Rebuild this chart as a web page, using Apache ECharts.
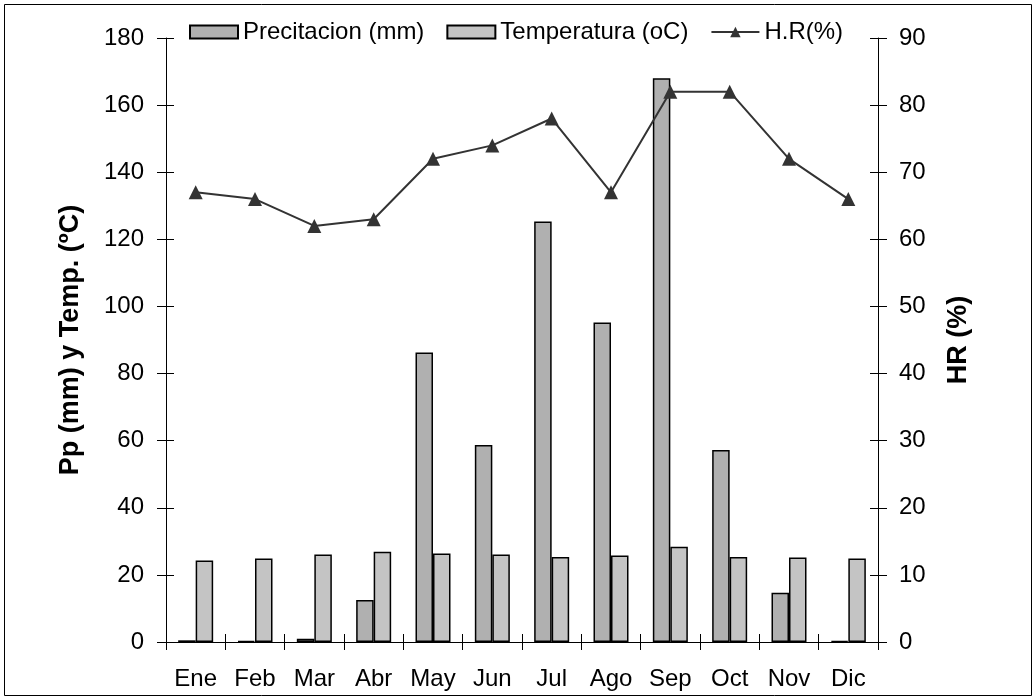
<!DOCTYPE html>
<html><head><meta charset="utf-8">
<script src="https://cdn.jsdelivr.net/npm/echarts@6/dist/echarts.min.js"></script>
<style>html,body{margin:0;padding:0;background:#fff}#c{width:1036px;height:700px}</style>
</head><body><div id="c"></div>
<script>
var months = ['Ene','Feb','Mar','Abr','May','Jun','Jul','Ago','Sep','Oct','Nov','Dic'];
var precip = [0.5, 0.3, 1, 12.5, 86.3, 58.7, 125.3, 95.2, 168, 57.2, 14.7, 0.3];
var temp = [24.3, 24.9, 26.1, 26.9, 26.4, 26.1, 25.3, 25.8, 28.4, 25.3, 25.2, 24.9];
var hr = [67, 66, 62, 63, 72, 74, 78, 67, 82, 82, 72, 66];
var leftTicks = {min: 0, max: 180, interval: 20};
var rightTicks = {min: 0, max: 90, interval: 10};

var chart = echarts.init(document.getElementById('c'));
var font = 'Liberation Sans, Arial, sans-serif';
var tickStyle = {color: '#000', width: 1};
function innerY(pos, t) {
  return {
    type: 'value', position: pos, min: t.min, max: t.max, interval: t.interval,
    axisLine: {show: false}, axisLabel: {show: false}, splitLine: {show: false},
    axisTick: {show: true, inside: true, length: 8, lineStyle: tickStyle}
  };
}
chart.setOption({
  animation: false,
  textStyle: {fontFamily: font},
  graphic: [{type: 'rect', shape: {x: 4.5, y: 4.5, width: 1027, height: 691}, style: {fill: 'none', stroke: '#000', lineWidth: 1}}],
  legend: {
    top: 15, left: 184, itemGap: 22,
    itemWidth: 48, itemHeight: 13,
    textStyle: {fontSize: 24, color: '#000', fontFamily: font},
    data: [
      {name: 'Precitacion (mm)', icon: 'rect'},
      {name: 'Temperatura (oC)', icon: 'rect'},
      {name: 'H.R(%)'}
    ]
  },
  grid: {left: 166, right: 158, top: 38, bottom: 58},
  xAxis: [{
    type: 'category', data: months,
    axisLine: {lineStyle: {color: '#000', width: 1}},
    axisTick: {show: true, length: 8, lineStyle: tickStyle},
    axisLabel: {fontSize: 24, color: '#000', margin: 25, fontFamily: font}
  }, {
    type: 'category', data: months, position: 'bottom',
    axisLine: {show: false}, axisLabel: {show: false},
    axisTick: {show: true, inside: true, length: 8, lineStyle: tickStyle}
  }],
  yAxis: [{
    type: 'value', min: leftTicks.min, max: leftTicks.max, interval: leftTicks.interval,
    name: 'Pp (mm) y Temp. (ºC)', nameLocation: 'middle', nameGap: 82,
    nameTextStyle: {fontSize: 27, fontWeight: 'bold', color: '#000', fontFamily: font},
    axisLine: {show: true, lineStyle: {color: '#000'}},
    axisTick: {show: true, length: 9, lineStyle: tickStyle},
    axisLabel: {fontSize: 24, color: '#000', margin: 22, fontFamily: font},
    splitLine: {show: false}
  }, {
    type: 'value', min: rightTicks.min, max: rightTicks.max, interval: rightTicks.interval,
    name: 'HR (%)', nameLocation: 'middle', nameGap: 67,
    nameTextStyle: {fontSize: 27, fontWeight: 'bold', color: '#000', fontFamily: font},
    axisLine: {show: true, lineStyle: {color: '#000'}},
    axisTick: {show: true, length: 9, lineStyle: tickStyle},
    axisLabel: {fontSize: 24, color: '#000', margin: 21, fontFamily: font},
    splitLine: {show: false}
  }, innerY('left', leftTicks), innerY('right', rightTicks)],
  series: [{
    name: 'Precitacion (mm)', type: 'bar', data: precip, yAxisIndex: 0,
    barWidth: 17.5, barGap: '0%',
    itemStyle: {color: '#b0b0b0', borderColor: '#000', borderWidth: 1.5}
  }, {
    name: 'Temperatura (oC)', type: 'bar', data: temp, yAxisIndex: 0,
    barWidth: 17.5, barGap: '0%',
    itemStyle: {color: '#c4c4c4', borderColor: '#000', borderWidth: 1.5}
  }, {
    name: 'H.R(%)', type: 'line', data: hr, yAxisIndex: 1,
    symbol: 'triangle', symbolSize: 14,
    lineStyle: {color: '#333', width: 2},
    itemStyle: {color: '#333'}
  }]
});
</script></body></html>
